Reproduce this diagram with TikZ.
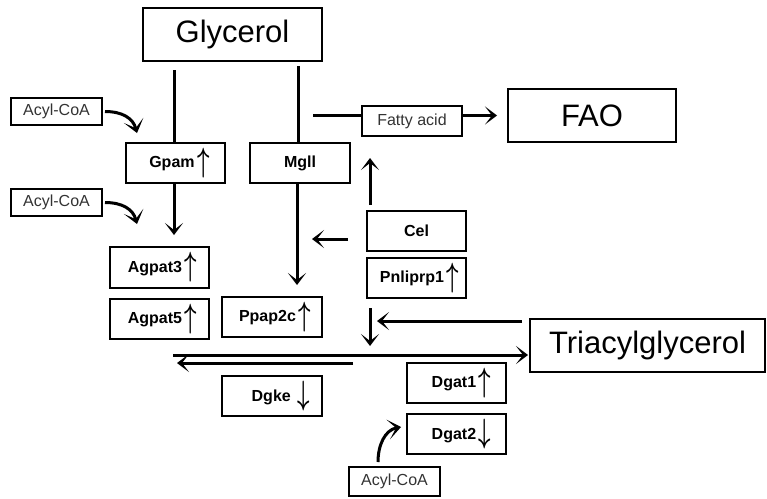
\documentclass[tikz,border=0pt]{standalone}
\usepackage{amsmath}
\usepackage{fontspec}
\setmainfont{Liberation Sans}
\usepackage{graphicx}
\usetikzlibrary{arrows.meta,calc}
\newcommand{\UpA}{\,\raisebox{-0.45ex}{\scalebox{1.25}[1.95]{$\boldsymbol{\uparrow}$}}}
\newcommand{\DnA}{\,\raisebox{-0.3ex}{\scalebox{1.25}[1.95]{$\boldsymbol{\downarrow}$}}}
\begin{document}
\begin{tikzpicture}[x=1pt,y=-1pt,
  box/.style={draw,line width=2pt,inner sep=0pt,outer sep=0pt},
  big/.style={box,font=\fontsize{31}{34}\selectfont},
  gene/.style={box,minimum width=99pt,minimum height=40pt,font=\fontsize{16}{18}\selectfont\bfseries},
  small/.style={box,minimum width=91pt,minimum height=27pt,font=\fontsize{16}{18}\selectfont,text=black!80},
  ln/.style={line width=3pt},
  arr/.style={line width=3pt,-{Stealth[length=12pt,width=18pt,inset=7pt]}},
  arrc/.style={line width=3pt,-{Stealth[length=13pt,width=20pt,inset=8pt]}}]
\useasboundingbox (0,0) rectangle (767,498);
% boxes
\node[big,minimum width=179pt,minimum height=53pt] (glyc) at (232.5,34.5) {Glycerol};
\node[big,minimum width=168pt,minimum height=53pt] (fao) at (592,115.5) {FAO};
\node[big,minimum width=235pt,minimum height=53pt] (tag) at (647.5,345.5) {Triacylglycerol};
\node[small] (acyl1) at (56.5,111.5) {Acyl-CoA};
\node[small] (acyl2) at (56.5,202.5) {Acyl-CoA};
\node[small,minimum height=29pt] (acyl3) at (394.5,481.5) {Acyl-CoA};
\node[small,minimum width=100pt,minimum height=30pt] (fatty) at (412,121) {Fatty acid};
\node[gene] (gpam) at (175.5,163) {\hspace*{8pt}Gpam\UpA};
\node[gene,minimum width=100pt] (mgll) at (300,163) {Mgll};
\node[gene,minimum height=41pt] (agpat3) at (159.5,267.5) {\hspace*{6pt}Agpat3\UpA};
\node[gene] (agpat5) at (159.5,319) {\hspace*{6pt}Agpat5\UpA};
\node[gene,minimum width=100pt] (ppap2c) at (272,317) {\hspace*{6pt}Ppap2c\UpA};
\node[gene] (cel) at (416.5,231) {Cel};
\node[gene] (pnli) at (416.5,278) {\hspace*{6pt}Pnliprp1\UpA};
\node[gene,minimum width=100pt] (dgke) at (272,396) {\hspace*{18pt}Dgke\ \DnA};
\node[gene] (dgat1) at (456.5,383) {\hspace*{10pt}Dgat1\UpA};
\node[gene] (dgat2) at (456.5,434) {\hspace*{10pt}Dgat2\DnA};
% connectors
\coordinate (g1) at (174,70);
\draw[ln] (g1) -- (g1 |- gpam.north);
\coordinate (g2) at (298,66);
\draw[ln] (g2) -- (g2 |- mgll.north);
\coordinate (fa0) at (313,115);
\draw[ln] (fa0) -- (fa0 -| fatty.west);
\draw[arr,shorten >=11pt] (fatty.east |- fao.west) -- (fao.west);
\draw[arr,shorten >=12pt] (g1 |- gpam.south) -- (g1 |- agpat3.north);
\coordinate (g3) at (297,70);
\draw[arr,shorten >=12pt] (g3 |- mgll.south) -- (g3 |- ppap2c.north);
\coordinate (c1) at (312,239);
\draw[arr,shorten <=19pt] (cel.west |- c1) -- (c1);
\coordinate (cf) at (370,158);
\draw[arr,shorten <=6pt] (cf |- cel.north) -- (cf);
\coordinate (t1) at (377,321);
\draw[arr,shorten <=8pt] (tag.west |- t1) -- (t1);
\coordinate (d0) at (370,308);
\coordinate (d1) at (370,346);
\draw[arr] (d0) -- (d1);
\coordinate (l0) at (173,355);
\draw[arr,shorten >=2pt] (l0) -- (l0 -| tag.west);
\coordinate (l1) at (353,363);
\coordinate (l2) at (177,363);
\draw[arr] (l1) -- (l2);
\draw[arrc,shorten <=3pt] (acyl1.east) .. controls (122,111.5) and (133,118) .. (137,133);
\draw[arrc,shorten <=3pt] (acyl2.east) .. controls (122,202.5) and (133,209) .. (137,224);
\coordinate (a3) at (378,440);
\draw[arrc,shorten <=5pt] (a3 |- acyl3.north) .. controls (378,445) and (385,430) .. (401,427);
\end{tikzpicture}
\end{document}
